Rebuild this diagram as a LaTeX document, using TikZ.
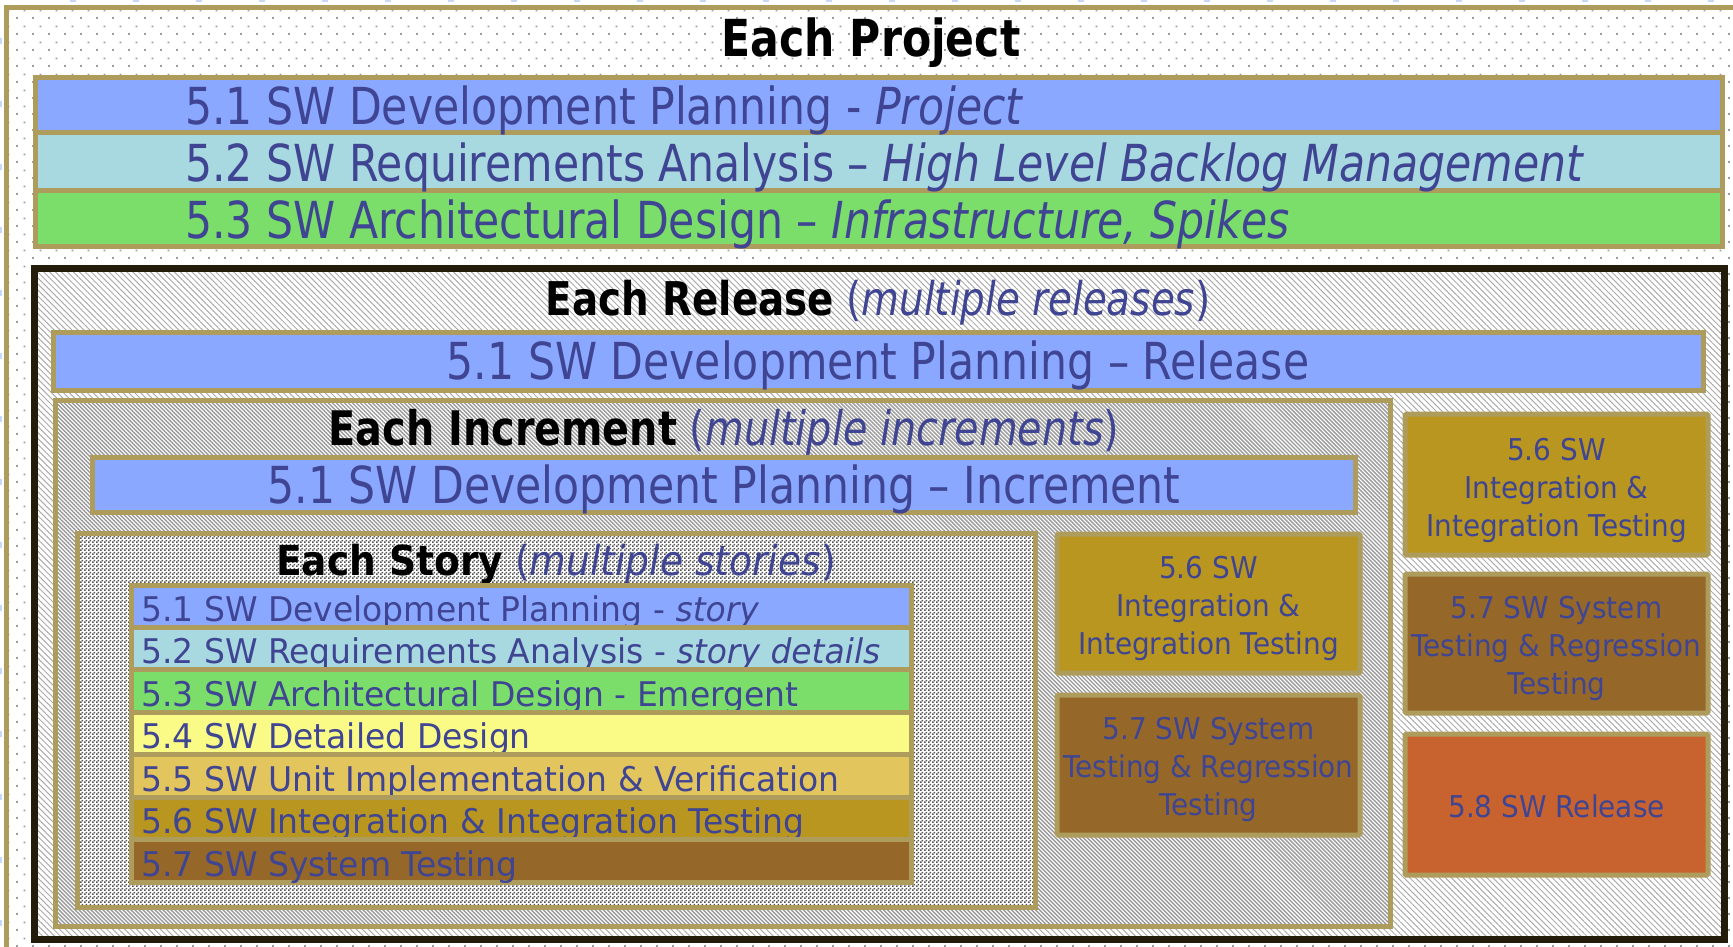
\documentclass[tikz,border=0pt]{standalone}
\usepackage{fontspec}
\usetikzlibrary{patterns.meta}
\setmainfont{DejaVu Sans}
% Tahoma-like faces: DejaVu Sans narrowed by different amounts
\newfontfamily\bigsans[FakeStretch=0.835]{DejaVu Sans}
\newfontfamily\titlesans[FakeStretch=0.91]{DejaVu Sans}
\newfontfamily\storysans[FakeStretch=0.97]{DejaVu Sans}
\newfontfamily\colsans[FakeStretch=0.93]{DejaVu Sans}

\definecolor{khaki}{HTML}{AE9C5C}
\definecolor{darkframe}{HTML}{241C0A}
\definecolor{txtblue}{HTML}{3F4592}
\definecolor{cplan}{HTML}{8AA8FF}
\definecolor{creq}{HTML}{A8D8E0}
\definecolor{carch}{HTML}{7CDE6A}
\definecolor{cdet}{HTML}{FAFA87}
\definecolor{cunit}{HTML}{E3C55E}
\definecolor{cinteg}{HTML}{B8961F}
\definecolor{csys}{HTML}{95682A}
\definecolor{crel}{HTML}{C8632F}
\definecolor{gridblue}{HTML}{C8D8F8}

% staggered dot screen of the project area
\tikzdeclarepattern{
  name=stagdots, type=uncolored,
  bottom left={(0pt,0pt)}, top right={(16pt,16pt)}, tile size={(16pt,16pt)},
  code={\fill (0pt,0pt) rectangle (2pt,2pt); \fill (8pt,8pt) rectangle (10pt,10pt);}
}
% fine checkerboard of the story area
\tikzdeclarepattern{
  name=checker, type=uncolored,
  bottom left={(0pt,0pt)}, top right={(4pt,4pt)}, tile size={(4pt,4pt)},
  code={\fill (0pt,0pt) rectangle (2pt,2pt); \fill (2pt,2pt) rectangle (4pt,4pt);}
}

\tikzset{
  spanbox/.style n args={4}{at={({(#1+#3)/2},{(#2+#4)/2})},
    minimum width={(#3-#1)*1pt}, minimum height={(#4-#2)*1pt},
    inner sep=0pt, outer sep=0pt, rectangle},
  khakiline/.style={draw=khaki, line width=5pt},
  projframe/.style={khakiline, preaction={fill=white}, pattern=stagdots, pattern color=black!38},
  relframe/.style={draw=darkframe, line width=7pt, preaction={fill=white},
    pattern={Lines[angle=-45,distance=4.2pt,line width=1pt]}, pattern color=black!32},
  incframe/.style={khakiline, preaction={fill=white},
    pattern={Lines[angle=-45,distance=2.83pt,line width=1.4pt]}, pattern color=black!40},
  storyframe/.style={khakiline, preaction={fill=white}, pattern=checker, pattern color=black!68},
  band/.style={khakiline, fill=#1},
  colbox/.style={khakiline, fill=#1, rounded corners=1.5pt},
  bandtext/.style={inner sep=0pt, text=txtblue, font=\bigsans\fontsize{51}{60}\selectfont},
  storytext/.style={inner sep=0pt, anchor=base west, text=txtblue, font=\storysans\fontsize{34}{40}\selectfont},
  coltext/.style={inner sep=0pt, anchor=north, align=center, text=txtblue, font=\colsans\fontsize{30}{38}\selectfont},
  heading/.style={inner sep=0pt, anchor=base, text=black},
}
\newcommand{\firstline}{\rule{0pt}{22pt}}

\begin{document}
\begin{tikzpicture}[x=1pt,y=-1pt]
\useasboundingbox (0,0) rectangle (1733,947);
\clip (0,0) rectangle (1733,947);

% faint sheet grid marks along the top and left edges
\draw[gridblue, line width=1.5pt, dash pattern=on 6pt off 57pt] (70,1) -- (1733,1);
\draw[gridblue, line width=1.5pt, dash pattern=on 6pt off 57pt] (1,38) -- (1,947);

% ---------- project level ----------
\node[projframe, spanbox={6.5}{7.5}{1780}{990}] (project) {};
\node[heading, font=\bigsans\bfseries\fontsize{51}{60}\selectfont] (projtitle) at (871,57) {Each Project};

\node[band=cplan, spanbox={35}{78}{1722}{133}] (pb1) {};
\node[band=creq,  spanbox={35}{133}{1722}{191}] (pb2) {};
\node[band=carch, spanbox={35}{191}{1722}{246}] (pb3) {};
\node[bandtext, anchor=base west] (pt1) at (185,125) {5.1 SW Development Planning - \textit{Project}};
\node[bandtext, anchor=base west] (pt2) at (185,182) {5.2 SW Requirements Analysis – \textit{High Level Backlog Management}};
\node[bandtext, anchor=base west] (pt3) at (185,238) {5.3 SW Architectural Design – \textit{Infrastructure, Spikes}};

% ---------- release level ----------
\node[relframe, spanbox={34.5}{268.5}{1724}{939}] (release) {};
\node[heading, font=\bigsans\fontsize{46.5}{54}\selectfont] (reltitle) at (878,315)
  {\bfseries Each Release\mdseries{} \textcolor{txtblue}{(\textit{multiple releases})}};
\node[band=cplan, spanbox={53.5}{332}{1703}{390}] (relplan) {};
\node[bandtext, anchor=base] (relplantxt) at (878,379) {5.1 SW Development Planning – Release};

% ---------- increment level ----------
\node[incframe, spanbox={55.5}{400}{1390}{926}] (increment) {};
\node[heading, font=\bigsans\fontsize{47.6}{56}\selectfont] (inctitle) at (724,445)
  {\bfseries Each Increment\mdseries{} \textcolor{txtblue}{(\textit{multiple increments})}};
\node[band=cplan, spanbox={92}{457}{1355}{512.5}] (incplan) {};
\node[bandtext, anchor=base] (incplantxt) at (724,503) {5.1 SW Development Planning – Increment};

% ---------- story level ----------
\node[storyframe, spanbox={77.5}{533}{1035.5}{907.5}] (story) {};
\node[heading, font=\titlesans\fontsize{41.3}{50}\selectfont] (storytitle) at (556,575)
  {\bfseries Each Story\mdseries{} \textcolor{txtblue}{(\textit{multiple stories})}};

% stacked activity bands; each band covers the descenders of the one above
\foreach \k/\c/\t in {
  0/cplan/{5.1 SW Development Planning - \textit{story}},
  1/creq/{5.2 SW Requirements Analysis - \textit{story details}},
  2/carch/{5.3 SW Architectural Design - Emergent},
  3/cdet/{5.4 SW Detailed Design},
  4/cunit/{5.5 SW Unit Implementation \& Verification},
  5/cinteg/{5.6 SW Integration \& Integration Testing},
  6/csys/{5.7 SW System Testing}} {
  \pgfmathsetmacro{\ytop}{585+\k*42.43}
  \pgfmathsetmacro{\ybot}{585+(\k+1)*42.43}
  \node[band=\c, spanbox={131}{\ytop}{911}{\ybot}] (sb\k) {};
  \node[storytext] (st\k) at (141,\ybot-6) {\t};
}

% increment-level integration and system testing
\node[colbox=cinteg, spanbox={1057}{534}{1360}{673}] (incint) {};
\node[coltext] (incinttxt) at (1208.5,556) {\firstline5.6 SW\\Integration \&\\Integration Testing};
\node[colbox=csys, spanbox={1057}{695}{1360}{835}] (incsys) {};
\node[coltext] (incsystxt) at (1208.5,717) {\firstline5.7 SW System\\Testing \& Regression\\Testing};

% release-level integration, system testing and release
\node[colbox=cinteg, spanbox={1405}{414}{1708}{555}] (relint) {};
\node[coltext] (relinttxt) at (1556.5,438) {\firstline5.6 SW\\Integration \&\\Integration Testing};
\node[colbox=csys, spanbox={1405}{574}{1708}{713}] (relsys) {};
\node[coltext] (relsystxt) at (1556.5,596) {\firstline5.7 SW System\\Testing \& Regression\\Testing};
\node[colbox=crel, spanbox={1405}{734}{1708}{875}] (relrel) {};
\node[inner sep=0pt, anchor=base, text=txtblue, font=\colsans\fontsize{30}{38}\selectfont] (relreltxt) at (1556.5,817) {5.8 SW Release};
\end{tikzpicture}
\end{document}
